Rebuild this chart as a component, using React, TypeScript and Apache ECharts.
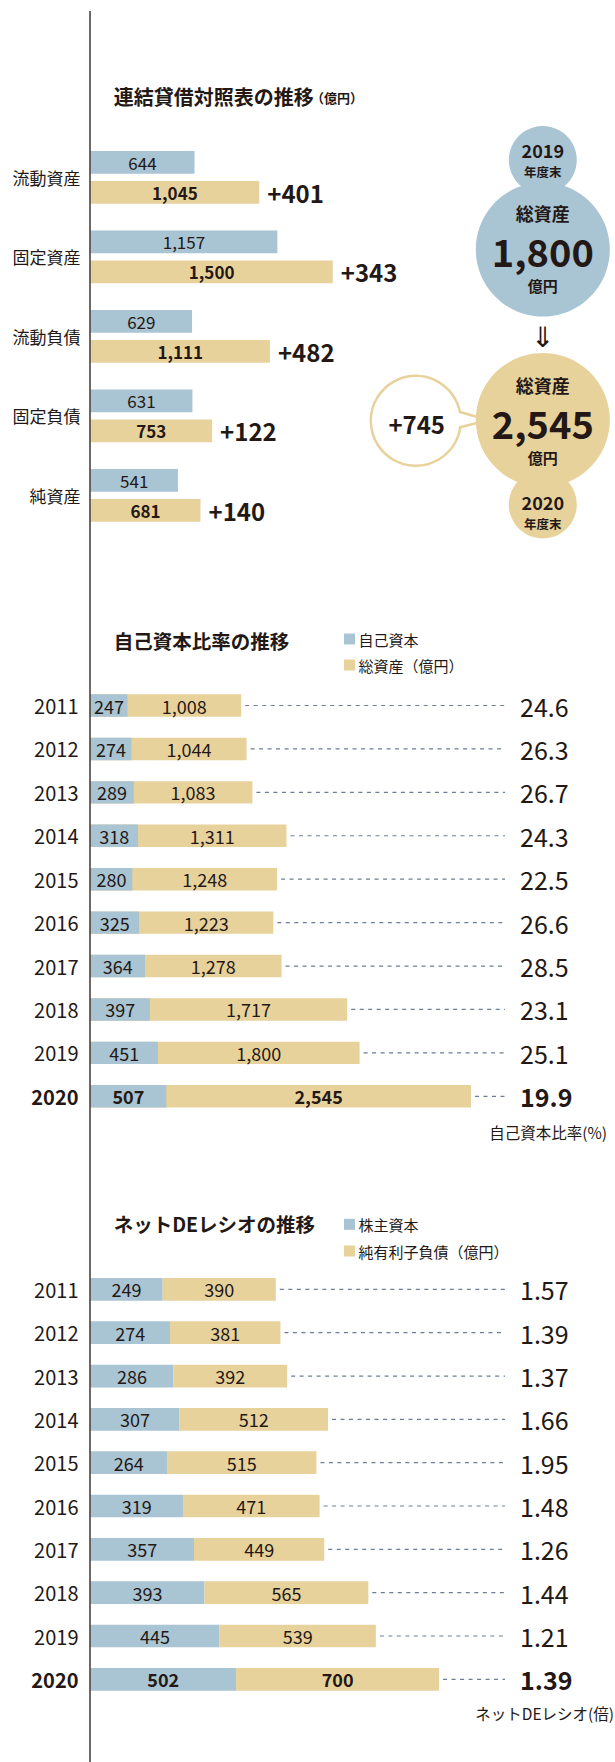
import React, { useEffect, useRef } from "react";
import * as echarts from "echarts";

// ---- data ----
const bsCategories = ["流動資産", "固定資産", "流動負債", "固定負債", "純資産"];
const bs2019 = [644, 1157, 629, 631, 541];
const bs2020 = [1045, 1500, 1111, 753, 681];
const bsChange = ["+401", "+343", "+482", "+122", "+140"];
const totalAssets2019Label = "1,800";
const totalAssets2020Label = "2,545";
const totalAssetsChangeLabel = "+745";

const years = ["2011", "2012", "2013", "2014", "2015", "2016", "2017", "2018", "2019", "2020"];
const equity = [247, 274, 289, 318, 280, 325, 364, 397, 451, 507];
const totalAssets = [1008, 1044, 1083, 1311, 1248, 1223, 1278, 1717, 1800, 2545];
const equityRatio = ["24.6", "26.3", "26.7", "24.3", "22.5", "26.6", "28.5", "23.1", "25.1", "19.9"];

const shareholdersEquity = [249, 274, 286, 307, 264, 319, 357, 393, 445, 502];
const netDebt = [390, 381, 392, 512, 515, 471, 449, 565, 539, 700];
const netDeRatio = ["1.57", "1.39", "1.37", "1.66", "1.95", "1.48", "1.26", "1.44", "1.21", "1.39"];

// ---- styles ----
const BLUE = "#a9c4d2";
const TAN = "#e8d29b";
const INK = "#231815";
const DASH = "#6b7d98";
const FONT = "Noto Sans CJK JP";

const fmt = (v: number) => v.toLocaleString("en-US");

function txt(x: number, y: number, text: string, size: number, weight: string = "normal", align: string = "center", fill: string = INK) {
  return {
    type: "text",
    x,
    y,
    style: {
      text,
      fill,
      fontSize: size,
      fontWeight: weight,
      fontFamily: FONT,
      lineHeight: size,
      align,
      verticalAlign: "middle",
      textAlign: align,
      textVerticalAlign: "middle",
    },
  };
}

function ratioRenderer(endOf: (i: number) => number, ratios: string[]) {
  return (params: any, api: any) => {
    const i = params.dataIndex;
    const p = api.coord([endOf(i), i]);
    const bold = i === ratios.length - 1;
    return {
      type: "group",
      children: [
        {
          type: "line",
          shape: { x1: p[0] + 4, y1: p[1], x2: 505, y2: p[1] },
          style: { stroke: DASH, lineWidth: 1.2, lineDash: [4, 4.5] },
        },
        {
          type: "text",
          x: 520,
          y: p[1],
          style: {
            text: ratios[i],
            fill: INK,
            fontSize: 25,
            fontWeight: bold ? "bold" : "normal",
            fontFamily: FONT,
            align: "left",
            verticalAlign: "middle",
          },
        },
      ],
    };
  };
}

const yearAxisLabel = {
  fontSize: 20,
  color: INK,
  fontFamily: FONT,
  margin: 12,
  formatter: (v: string, i: number) => (i === years.length - 1 ? `{b|${v}}` : `{n|${v}}`),
  rich: {
    b: { fontSize: 20, fontWeight: "bold", color: INK, fontFamily: FONT },
    n: { fontSize: 20, fontWeight: "normal", color: INK, fontFamily: FONT },
  },
};

const barLabel = (size: number, weight: string = "normal") => ({
  show: true,
  position: "inside",
  fontSize: size,
  fontWeight: weight,
  fontFamily: FONT,
  color: INK,
  formatter: (p: any) => fmt(p.value),
});

function buildOption(): any {
  const last = years.length - 1;
  return {
    animation: false,
    backgroundColor: "#ffffff",
    textStyle: { fontFamily: FONT, color: INK },
    grid: [
      { left: 90.5, top: 137.6, width: 323, height: 397.5 },
      { left: 90.5, top: 683.8, width: 448.5, height: 434.2 },
      { left: 90.5, top: 1267.7, width: 435, height: 433.3 },
    ],
    xAxis: [
      { type: "value", gridIndex: 0, min: 0, max: 2000, show: false },
      { type: "value", gridIndex: 1, min: 0, max: 3000, show: false },
      { type: "value", gridIndex: 2, min: 0, max: 1500, show: false },
    ],
    yAxis: [
      {
        type: "category", gridIndex: 0, inverse: true, data: bsCategories,
        axisLine: { show: false }, axisTick: { show: false }, splitLine: { show: false },
        axisLabel: { fontSize: 17, color: INK, margin: 10, fontFamily: FONT },
      },
      {
        type: "category", gridIndex: 1, inverse: true, data: years,
        axisLine: { show: false }, axisTick: { show: false }, splitLine: { show: false },
        axisLabel: yearAxisLabel,
      },
      {
        type: "category", gridIndex: 2, inverse: true, data: years,
        axisLine: { show: false }, axisTick: { show: false }, splitLine: { show: false },
        axisLabel: yearAxisLabel,
      },
    ],
    series: [
      // Section 1
      {
        type: "bar", name: "2019年度末", xAxisIndex: 0, yAxisIndex: 0, data: bs2019,
        barWidth: 22.7, barGap: "32%", itemStyle: { color: BLUE },
        label: barLabel(17),
      },
      {
        type: "bar", name: "2020年度末", xAxisIndex: 0, yAxisIndex: 0, data: bs2020,
        barWidth: 22.7, barGap: "32%", itemStyle: { color: TAN },
        label: barLabel(17, "bold"),
      },
      {
        type: "custom", name: "増減", xAxisIndex: 0, yAxisIndex: 0, z: 5,
        data: bs2020.map((v, i) => [v, i]),
        encode: { x: 0, y: 1 },
        renderItem: (params: any, api: any) => {
          const i = params.dataIndex;
          const p = api.coord([bs2020[i], i]);
          return {
            type: "text",
            x: p[0] + 8,
            y: p[1] + 15,
            style: {
              text: bsChange[i], fill: INK, fontSize: 24, fontWeight: "bold", fontFamily: FONT,
              align: "left", verticalAlign: "middle",
            },
          };
        },
      },
      // Section 2
      {
        type: "bar", name: "総資産（億円）", xAxisIndex: 1, yAxisIndex: 1,
        barWidth: 22.4, barGap: "-100%", itemStyle: { color: TAN },
        data: totalAssets.map((v, i) => ({
          value: v,
          label: {
            position: [`${(((equity[i] + v) / 2 / v) * 100).toFixed(2)}%`, "50%"],
            fontWeight: i === last ? "bold" : "normal",
          },
        })),
        label: {
          show: true, fontSize: 18, color: INK, fontFamily: FONT, align: "center", verticalAlign: "middle",
          formatter: (p: any) => fmt(p.value),
        },
      },
      {
        type: "bar", name: "自己資本", xAxisIndex: 1, yAxisIndex: 1,
        barWidth: 22.4, barGap: "-100%", itemStyle: { color: BLUE },
        data: equity.map((v, i) => ({ value: v, label: { fontWeight: i === last ? "bold" : "normal" } })),
        label: barLabel(18),
      },
      {
        type: "custom", name: "自己資本比率", xAxisIndex: 1, yAxisIndex: 1, z: 5,
        data: totalAssets.map((v, i) => [v, i]),
        encode: { x: 0, y: 1 },
        renderItem: ratioRenderer((i) => totalAssets[i], equityRatio),
      },
      // Section 3
      {
        type: "bar", name: "株主資本", xAxisIndex: 2, yAxisIndex: 2, stack: "de",
        barWidth: 22.7, itemStyle: { color: BLUE },
        data: shareholdersEquity.map((v, i) => ({ value: v, label: { fontWeight: i === last ? "bold" : "normal" } })),
        label: barLabel(18),
      },
      {
        type: "bar", name: "純有利子負債（億円）", xAxisIndex: 2, yAxisIndex: 2, stack: "de",
        barWidth: 22.7, itemStyle: { color: TAN },
        data: netDebt.map((v, i) => ({ value: v, label: { fontWeight: i === last ? "bold" : "normal" } })),
        label: barLabel(18),
      },
      {
        type: "custom", name: "ネットDEレシオ", xAxisIndex: 2, yAxisIndex: 2, z: 5,
        data: netDebt.map((v, i) => [shareholdersEquity[i], i]),
        encode: { x: 0, y: 1 },
        renderItem: ratioRenderer((i) => shareholdersEquity[i] + netDebt[i], netDeRatio),
      },
    ],
    graphic: [
      // vertical rule
      { type: "line", shape: { x1: 90, y1: 11, x2: 90, y2: 1762 }, style: { stroke: INK, lineWidth: 1.3 }, z: 10 },
      // Section 1 title
      txt(113.7, 96.7, "連結貸借対照表の推移", 20, "bold", "left"),
      txt(311, 97.5, "（億円）", 13, "bold", "left"),
      // circles 2019
      { type: "circle", shape: { cx: 542.8, cy: 160, r: 34 }, style: { fill: BLUE } },
      { type: "circle", shape: { cx: 542.8, cy: 249.5, r: 67 }, style: { fill: BLUE } },
      txt(542.8, 150, "2019", 18, "bold"),
      txt(542.8, 171.7, "年度末", 12.5, "bold"),
      txt(542.8, 212.7, "総資産", 18, "bold"),
      txt(542.8, 250.5, totalAssets2019Label, 38, "bold"),
      txt(542.8, 285.5, "億円", 15, "bold"),
      txt(542.8, 335, "⇓", 28, "normal"),
      // bubble +745
      { type: "circle", shape: { cx: 415.8, cy: 420.8, r: 45 }, style: { fill: "#ffffff", stroke: TAN, lineWidth: 2.5 } },
      { type: "polygon", shape: { points: [[456, 411], [482, 418], [482, 422], [456, 428]] }, style: { fill: "#ffffff" } },
      { type: "polyline", shape: { points: [[459, 411.8], [482, 418.3]] }, style: { stroke: TAN, lineWidth: 2.5, fill: "none" } },
      { type: "polyline", shape: { points: [[459, 427.5], [482, 421.7]] }, style: { stroke: TAN, lineWidth: 2.5, fill: "none" } },
      txt(416.7, 423, totalAssetsChangeLabel, 24, "bold"),
      // circles 2020
      { type: "circle", shape: { cx: 542.8, cy: 504.5, r: 34 }, style: { fill: TAN } },
      { type: "circle", shape: { cx: 542.8, cy: 420, r: 67 }, style: { fill: TAN } },
      txt(542.8, 385, "総資産", 18, "bold"),
      txt(542.8, 422, totalAssets2020Label, 38, "bold"),
      txt(542.8, 457.5, "億円", 15, "bold"),
      txt(542.8, 501.7, "2020", 18, "bold"),
      txt(542.8, 523, "年度末", 12.5, "bold"),
      // Section 2 title & legend
      txt(113.7, 640, "自己資本比率の推移", 19.5, "bold", "left"),
      { type: "rect", shape: { x: 344, y: 633.5, width: 11, height: 11 }, style: { fill: BLUE } },
      txt(358.5, 639.3, "自己資本", 15, "normal", "left"),
      { type: "rect", shape: { x: 344, y: 659.5, width: 11, height: 11 }, style: { fill: TAN } },
      txt(358.5, 665, "総資産（億円）", 15, "normal", "left"),
      txt(607, 1131.7, "自己資本比率(%)", 15.5, "normal", "right"),
      // Section 3 title & legend
      txt(113.7, 1223.3, "ネットDEレシオの推移", 19.5, "bold", "left"),
      { type: "rect", shape: { x: 344, y: 1218.8, width: 11, height: 11 }, style: { fill: BLUE } },
      txt(358.5, 1224.3, "株主資本", 15, "normal", "left"),
      { type: "rect", shape: { x: 344, y: 1245.5, width: 11, height: 11 }, style: { fill: TAN } },
      txt(358.5, 1251, "純有利子負債（億円）", 15, "normal", "left"),
      txt(614, 1713.3, "ネットDEレシオ(倍)", 15.5, "normal", "right"),
    ],
  };
}

export default function App() {
  const ref = useRef<HTMLDivElement>(null);
  useEffect(() => {
    if (!ref.current) return;
    const chart = echarts.init(ref.current, undefined, { renderer: "svg" });
    chart.setOption(buildOption());
    return () => chart.dispose();
  }, []);
  return (
    <div
      ref={ref}
      style={{ position: "absolute", left: 0, top: 0, width: 615, height: 1762, background: "#ffffff" }}
    />
  );
}
